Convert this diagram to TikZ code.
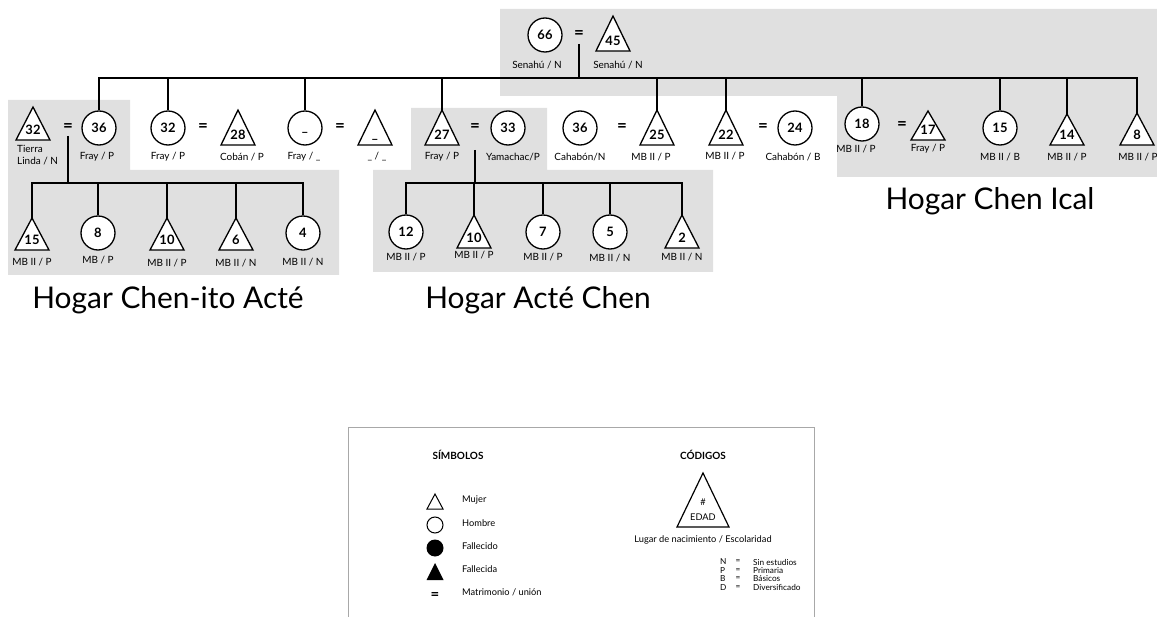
\documentclass[tikz,border=0pt]{standalone}
\usepackage{fontspec}
\setmainfont{Lato}
\definecolor{regiongray}{HTML}{E0E0E0}
\definecolor{boxgray}{HTML}{A8A8A8}
\newcommand\Tri[5]{%
  \draw[trishape] (#2,#3) coordinate (#1) -- (#2+17,#4) -- (#2-17,#4) -- cycle;
  \node[tritext] (#1t) at (#2,#4-10) {#5};
}
\begin{document}
\begin{tikzpicture}[x=1bp,y=-1bp,
  person/.style={circle,draw,line width=1.3bp,fill=white,minimum size=34bp,inner sep=0pt,font=\bfseries\fontsize{13}{13}\selectfont},
  trishape/.style={draw,line width=1.3bp,fill=white,line join=miter},
  tritext/.style={inner sep=0pt,font=\bfseries\fontsize{13}{13}\selectfont},
  lbl/.style={font=\fontsize{10}{12}\selectfont,inner sep=0pt},
  eqs/.style={font=\bfseries\fontsize{17}{17}\selectfont,inner sep=0pt},
  link/.style={line width=1.8bp},
  region/.style={fill=regiongray},
  housetitle/.style={font=\fontsize{30}{30}\selectfont,inner sep=0pt},
  lgd/.style={font=\fontsize{9.3}{10}\selectfont,inner sep=0pt},
  codes/.style={font=\fontsize{8.3}{8.5}\selectfont,inner sep=0pt},
  lgdhead/.style={font=\bfseries\fontsize{10}{10}\selectfont,inner sep=0pt}
]
\useasboundingbox (0,0) rectangle (1157,617);
\fill[white] (0,0) rectangle (1157,617);
% regions
\fill[region] (500,9) -- (1157,9) -- (1157,177) -- (837,177) -- (837,96) -- (500,96) -- cycle;
\fill[region] (8,100) -- (130,100) -- (130,170) -- (339,170) -- (339,275) -- (8,275) -- cycle;
\fill[region] (411,108) -- (547,108) -- (547,170) -- (713,170) -- (713,272) -- (373,272) -- (373,170) -- (411,170) -- cycle;

% connector coordinates
\coordinate (m0) at (579,44);
\coordinate (bar) at (579,78);
\coordinate (m1) at (68,136);
\coordinate (bar1) at (68,183);
\coordinate (m2) at (475,150);
\coordinate (bar2) at (475,183);

% top couple
\node[person] (c66) at (545,35) {66};
\node[eqs] (e0) at (579,35) {=};
\Tri{t45}{613}{16}{51}{45}
\node[lbl] at (537,65) {Senahú / N};
\node[lbl] at (618,65) {Senahú / N};

% second generation
\Tri{t32}{33}{107}{140}{32}
\node[lbl,anchor=north west,align=left] at (17,145) {Tierra\\Linda / N};
\node[eqs] (e1) at (68,128) {=};
\node[person] (c36) at (99,128) {36};
\node[lbl] at (97,157) {Fray / P};

\node[person] (c32) at (168,128) {32};
\node[lbl] at (168,157) {Fray / P};
\node[eqs] (e2) at (203,128) {=};
\Tri{t28}{238}{110}{145}{28}
\node[lbl] at (242,157) {Cobán / P};

\node[person] (cu) at (305,128) {\vphantom{0}\_};
\node[lbl] at (304,157) {Fray / \_};
\node[eqs] (e3) at (340,128) {=};
\Tri{tu}{375}{110}{145}{\vphantom{0}\_}
\node[lbl] at (377,157) {\_ / \_};

\Tri{t27}{442}{110}{145}{27}
\node[lbl] at (442,157) {Fray / P};
\node[eqs] (e4) at (475,128) {=};
\node[person] (c33) at (508,128) {33};
\node[lbl] at (513,157) {Yamachac/P};

\node[person] (c36b) at (580,128) {36};
\node[lbl] at (580,157) {Cahabón/N};
\node[eqs] (e5) at (622,128) {=};
\Tri{t25}{657}{110}{145}{25}
\node[lbl] at (651,157) {MB II / P};

\Tri{t22}{726}{110}{145}{22}
\node[lbl] at (725,156) {MB II / P};
\node[eqs] (e6) at (763,128) {=};
\node[person] (c24) at (795,128) {24};
\node[lbl] at (793,157) {Cahabón / B};

\node[person] (c18) at (862,124) {18};
\node[lbl] at (856,149) {MB II / P};
\node[eqs] (e7) at (902,126) {=};
\Tri{t17}{928}{111}{140}{17}
\node[lbl] at (928,149) {Fray / P};

\node[person] (c15) at (1000,128) {15};
\node[lbl] at (1000,157) {MB II / B};
\Tri{t14}{1067}{114}{145}{14}
\node[lbl] at (1067,157) {MB II / P};
\Tri{t8}{1137}{113}{145}{8}
\node[lbl] at (1138,157) {MB II / P};

% family 1 children
\Tri{t15}{32}{218}{250}{15}
\node[lbl] at (32,262) {MB II / P};
\node[person] (c8) at (98,233) {8};
\node[lbl] at (98,260) {MB / P};
\Tri{t10}{167}{218}{250}{10}
\node[lbl] at (167,263) {MB II / P};
\Tri{t6}{236}{218}{250}{6}
\node[lbl] at (236,263) {MB II / N};
\node[person] (c4) at (303,233) {4};
\node[lbl] at (303,262) {MB II / N};

% family 2 children
\node[person] (c12) at (406,232) {12};
\node[lbl] at (406,257) {MB II / P};
\Tri{t10b}{474}{215}{248}{10}
\node[lbl] at (474,255) {MB II / P};
\node[person] (c7) at (543,232) {7};
\node[lbl] at (543,257) {MB II / P};
\node[person] (c5) at (610,232) {5};
\node[lbl] at (610,258) {MB II / N};
\Tri{t2}{682}{215}{248}{2}
\node[lbl] at (682,257) {MB II / N};

% connectors
\draw[link] (m0) -- (bar);
\foreach \n in {c36,c32,cu,c18,c15} \draw[link] (bar) -| (\n.north);
\foreach \n in {t27,t25,t22,t14,t8} \draw[link] (bar) -| (\n);
\draw[link] (m1) -- (bar1);
\foreach \n in {c8,c4} \draw[link] (bar1) -| (\n.north);
\foreach \n in {t15,t10,t6} \draw[link] (bar1) -| (\n);
\draw[link] (m2) -- (bar2);
\foreach \n in {c12,c7,c5} \draw[link] (bar2) -| (\n.north);
\foreach \n in {t10b,t2} \draw[link] (bar2) -| (\n);

% household titles
\node[housetitle] (h1) at (168,300) {Hogar Chen-ito Acté};
\node[housetitle] (h2) at (538,300) {Hogar Acté Chen};
\node[housetitle] (h3) at (990,201) {Hogar Chen Ical};

% legend
\draw[boxgray,line width=0.9bp] (348,630) -- (348,427) -- (814,427) -- (814,630);
\node[lgdhead] (hs) at (458,455) {SÍMBOLOS};
\draw[line width=1bp] (435,494) coordinate (lt) -- (443,509) -- (427,509) -- cycle;
\node[lgd,anchor=west] (lm) at (462,500) {Mujer};
\node[circle,draw,line width=1bp,minimum size=16bp,inner sep=0pt] (lc) at (435,525) {};
\node[lgd,anchor=west] (lh) at (462,523) {Hombre};
\node[circle,fill=black,minimum size=17bp,inner sep=0pt] (lf) at (435,548) {};
\node[lgd,anchor=west] (lfo) at (462,546) {Fallecido};
\fill (435,563) coordinate (lft) -- (443.5,580) -- (426.5,580) -- cycle;
\node[lgd,anchor=west] (lfa) at (462,569) {Fallecida};
\node[eqs,font=\bfseries\fontsize{15}{15}\selectfont] (le) at (435,596) {=};
\node[lgd,anchor=west] (lmu) at (462,592) {Matrimonio / unión};

\node[lgdhead] (hc) at (703,455) {CÓDIGOS};
\draw[line width=1.2bp] (703,473) coordinate (ct) -- (729,527) -- (677,527) -- cycle;
\node[lgd] (ch) at (703,502) {\#};
\node[lgd] (ce) at (703,517) {EDAD};
\node[lgd] (cl) at (703,540) {Lugar de nacimiento / Escolaridad};
\foreach \k/\v/\yy in {N/Sin estudios/562,P/Primaria/570.5,B/Básicos/579,D/Diversificado/587.5}{
  \node[codes,anchor=west] at (720,\yy) {\k};
  \node[codes] at (738,\yy) {=};
  \node[codes,anchor=west] at (753,\yy) {\v};
}
\end{tikzpicture}
\end{document}
